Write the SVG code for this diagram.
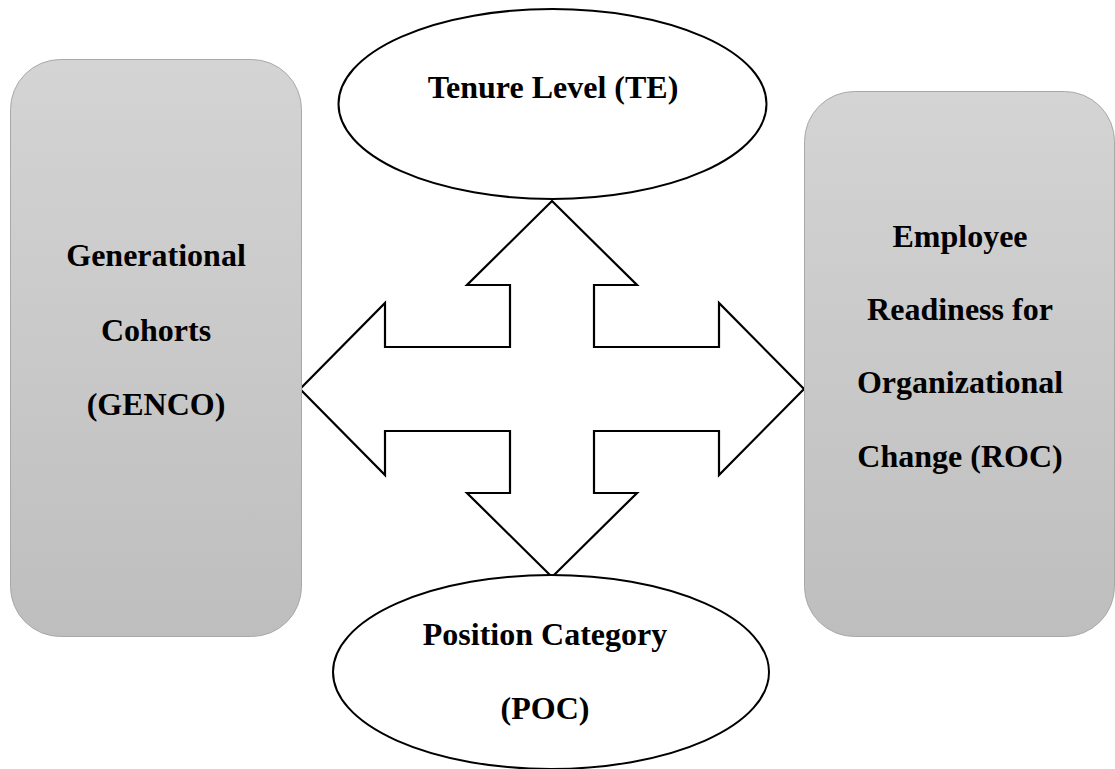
<svg xmlns="http://www.w3.org/2000/svg" width="1115" height="769" viewBox="0 0 1115 769">
<style>
.lbl{font-family:"Liberation Serif","Times New Roman",serif;font-weight:bold;font-size:32px;fill:#000;text-anchor:middle}
.box{fill:url(#g);stroke:#a8a8a8;stroke-width:1}
.ell{fill:#fff;stroke:#000;stroke-width:2}
.arr{fill:#fff;stroke:#000;stroke-width:2.2;stroke-linejoin:miter}
</style>
<defs>
<linearGradient id="g" x1="0" y1="0" x2="0" y2="1">
<stop offset="0" stop-color="#d4d4d4"/>
<stop offset="1" stop-color="#bebebe"/>
</linearGradient>
</defs>
<rect width="1115" height="769" fill="#fff"/>
<g id="connectors">
<polygon class="arr" points="552,201 637,285 594,285 594,347 719,347 719,303 804,389 719,475 719,431 594,431 594,493 637,493 552,577 467,493 510,493 510,431 385,431 385,475 300,389 385,303 385,347 510,347 510,285 467,285"/>
</g>
<g id="genco">
<rect class="box" x="10.5" y="59.5" width="291" height="577" rx="50" ry="50"/>
<text class="lbl" x="156" y="266">Generational</text>
<text class="lbl" x="156" y="341">Cohorts</text>
<text class="lbl" x="156" y="415">(GENCO)</text>
</g>
<g id="roc">
<rect class="box" x="804.5" y="91.5" width="310" height="545" rx="50" ry="50"/>
<text class="lbl" x="960" y="247">Employee</text>
<text class="lbl" x="960" y="320">Readiness for</text>
<text class="lbl" x="960" y="393">Organizational</text>
<text class="lbl" x="960" y="467">Change (ROC)</text>
</g>
<g id="te">
<ellipse class="ell" cx="552.5" cy="104" rx="214" ry="95"/>
<text class="lbl" x="553" y="98">Tenure Level (TE)</text>
</g>
<g id="poc">
<ellipse class="ell" cx="551" cy="672" rx="218" ry="97"/>
<text class="lbl" x="545" y="645">Position Category</text>
<text class="lbl" x="545" y="719">(POC)</text>
</g>
</svg>
